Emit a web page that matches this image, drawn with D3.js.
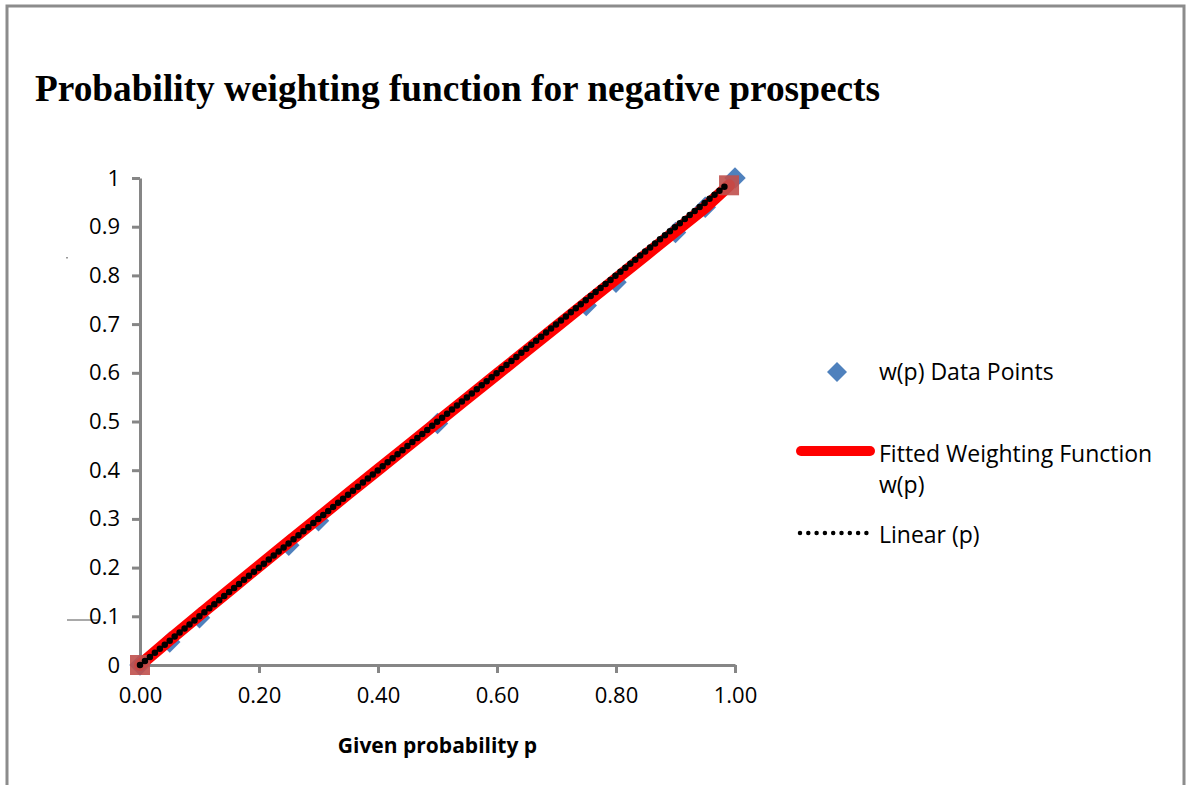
<!DOCTYPE html>
<html>
<head>
<meta charset="utf-8">
<script src="https://cdn.jsdelivr.net/npm/d3@7/dist/d3.min.js"></script>
<style>
  html, body { margin: 0; padding: 0; background: #fff; }
  #chart { width: 1189px; height: 785px; }
  text { font-family: "Open Sans", sans-serif; }
</style>
</head>
<body>
<div id="chart"></div>
<script>
// observed data points w(p)
const dataP = [0, 0.05, 0.10, 0.25, 0.30, 0.50, 0.75, 0.80, 0.90, 0.95, 1.00];
const dataW = [0, 0.047, 0.097, 0.246, 0.296, 0.496, 0.738, 0.786, 0.888, 0.940, 1.00];

// fitted weighting function
const fitP = [0, 0.05, 0.10, 0.15, 0.20, 0.25, 0.30, 0.35, 0.40, 0.45, 0.50,
              0.55, 0.60, 0.65, 0.70, 0.75, 0.80, 0.85, 0.90, 0.95, 0.99];
const fitW = [0, 0.052, 0.103, 0.153, 0.203, 0.253, 0.302, 0.352, 0.401, 0.450, 0.499,
              0.548, 0.597, 0.646, 0.695, 0.744, 0.793, 0.842, 0.891, 0.940, 0.985];

// linear reference w = p
const linP = [0, 0.99];
const linW = [0, 0.99];

const yTicks = [0, 0.1, 0.2, 0.3, 0.4, 0.5, 0.6, 0.7, 0.8, 0.9, 1];
const xTicks = [0, 0.2, 0.4, 0.6, 0.8, 1];

const legendLabels = [['w(p) Data Points'], ['Fitted Weighting Function', 'w(p)'], ['Linear (p)']];

class Chart {
  constructor(id) {
    this.svg = d3.select('#' + id).append('svg')
      .attr('width', 1189)
      .attr('height', 785);
    this.x = d3.scaleLinear().domain([0, 1]).range([140, 735]);
    this.y = d3.scaleLinear().domain([0, 1]).range([665, 178]);
  }

  draw() {
    this.frame();
    this.axes();
    this.series();
    this.legend();
  }

  frame() {
    this.svg.append('path')
      .attr('d', 'M7,785 L7,6 L1184,6 L1184,785')
      .attr('fill', 'none')
      .attr('stroke', '#8c8c8c')
      .attr('stroke-width', 3);

    this.svg.append('text')
      .attr('x', 35).attr('y', 101)
      .style('font-family', '"Liberation Serif", "Times New Roman", serif')
      .style('font-weight', 'bold')
      .style('font-size', '37px')
      .attr('textLength', 845)
      .attr('lengthAdjust', 'spacingAndGlyphs')
      .text('Probability weighting function for negative prospects');

    // stray marks from the scanned original
    this.svg.append('line')
      .attr('x1', 67).attr('x2', 99).attr('y1', 620).attr('y2', 620)
      .attr('stroke', '#555').attr('stroke-width', 1);
    this.svg.append('rect')
      .attr('x', 66).attr('y', 257).attr('width', 2).attr('height', 1.5)
      .attr('fill', '#999');
  }

  axes() {
    const yAxis = d3.axisLeft(this.y)
      .tickValues(yTicks)
      .tickFormat(d => d === 0 || d === 1 ? String(d) : d.toFixed(1))
      .tickSize(8).tickSizeOuter(0).tickPadding(12);
    const xAxis = d3.axisBottom(this.x)
      .tickValues(xTicks)
      .tickFormat(d3.format('.2f'))
      .tickSize(8).tickSizeOuter(0).tickPadding(14);

    const gy = this.svg.append('g')
      .attr('transform', `translate(${this.x(0)},0)`)
      .call(yAxis);
    const gx = this.svg.append('g')
      .attr('transform', `translate(0,${this.y(0)})`)
      .call(xAxis);

    [gx, gy].forEach(g => {
      g.select('.domain').attr('stroke', '#868686').attr('stroke-width', 3);
      g.selectAll('.tick line').attr('stroke', '#868686').attr('stroke-width', 3);
      g.selectAll('.tick text')
        .attr('fill', '#000')
        .style('font-family', '"Open Sans", sans-serif')
        .style('font-size', '22px');
    });

    this.svg.append('text')
      .attr('x', (this.x(0) + this.x(1)) / 2).attr('y', 753)
      .attr('text-anchor', 'middle')
      .style('font-weight', 'bold')
      .style('font-size', '21px')
      .text('Given probability p');
  }

  series() {
    const pts = dataP.map((p, i) => [p, dataW[i]]);
    const fit = fitP.map((p, i) => [p, fitW[i]]);
    const lin = linP.map((p, i) => [p, linW[i]]);
    const line = d3.line().x(d => this.x(d[0])).y(d => this.y(d[1]));
    const diamond = d3.symbol().type(d3.symbolSquare).size(230);

    this.svg.append('g').selectAll('path')
      .data(pts).join('path')
      .attr('d', diamond)
      .attr('transform', d => `translate(${this.x(d[0])},${this.y(d[1])}) rotate(45)`)
      .attr('fill', '#4f81bd');

    this.svg.append('path')
      .datum(fit)
      .attr('d', line)
      .attr('fill', 'none')
      .attr('stroke', '#ff0000')
      .attr('stroke-width', 12)
      .attr('stroke-linecap', 'round')
      .attr('stroke-linejoin', 'round');

    const ends = [fit[0], fit[fit.length - 1]];
    this.svg.append('g').selectAll('rect')
      .data(ends).join('rect')
      .attr('x', d => this.x(d[0]) - 10)
      .attr('y', d => this.y(d[1]) - 10)
      .attr('width', 20).attr('height', 20)
      .attr('fill', '#c0504d')
      .attr('opacity', 0.9);

    this.svg.append('path')
      .datum(lin)
      .attr('d', line)
      .attr('fill', 'none')
      .attr('stroke', '#000')
      .attr('stroke-width', 6.5)
      .attr('stroke-linecap', 'round')
      .attr('stroke-dasharray', '0 6.4');
  }

  legend() {
    const lg = this.svg.append('g');
    const tx = 879;
    const rows = [372, 454, 535];

    lg.append('path')
      .attr('d', d3.symbol().type(d3.symbolSquare).size(200))
      .attr('transform', `translate(837,${rows[0]}) rotate(45)`)
      .attr('fill', '#4f81bd');
    lg.append('line')
      .attr('x1', 801).attr('x2', 870).attr('y1', rows[1] - 3).attr('y2', rows[1] - 3)
      .attr('stroke', '#ff0000').attr('stroke-width', 10).attr('stroke-linecap', 'round');
    lg.append('line')
      .attr('x1', 800).attr('x2', 867).attr('y1', rows[2] - 2).attr('y2', rows[2] - 2)
      .attr('stroke', '#000').attr('stroke-width', 4.5)
      .attr('stroke-linecap', 'round').attr('stroke-dasharray', '0 8.3');

    legendLabels.forEach((lines, i) => {
      const t = lg.append('text')
        .attr('x', tx).attr('y', rows[i] + 8)
        .style('font-size', '23px')
        .attr('fill', '#000');
      lines.forEach((s, j) => {
        t.append('tspan').attr('x', tx).attr('dy', j === 0 ? 0 : 31).text(s);
      });
    });
  }
}

new Chart('chart').draw();
</script>
</body>
</html>
